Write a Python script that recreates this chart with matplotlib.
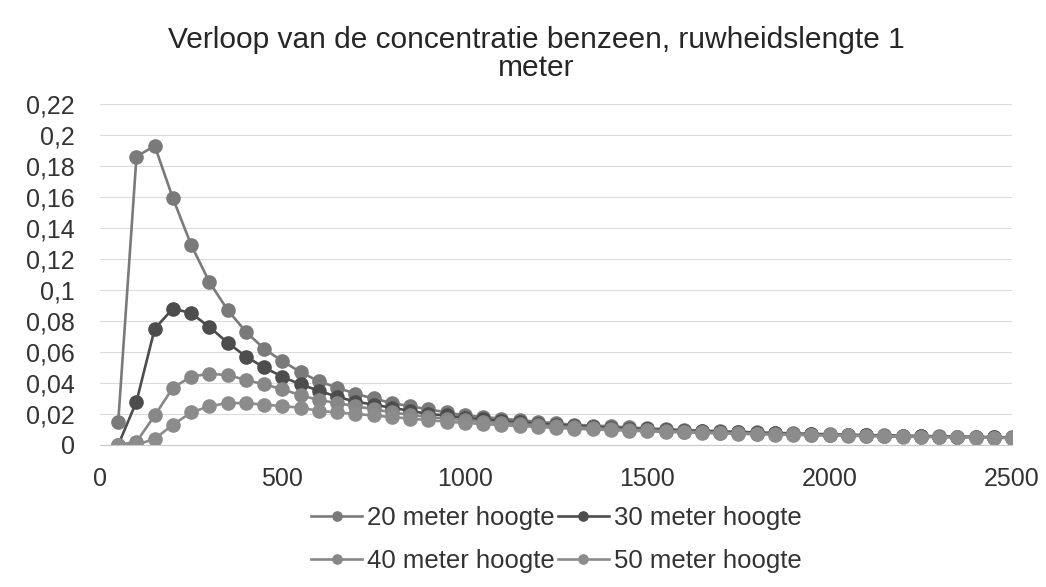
import numpy as np
import matplotlib
matplotlib.use('Agg')
import matplotlib.pyplot as plt
from matplotlib.ticker import FuncFormatter, MultipleLocator

plt.rcParams['font.family'] = ['Liberation Sans', 'DejaVu Sans']

afstand = np.arange(50, 2501, 50)

h20 = [0.015, 0.186, 0.193, 0.159, 0.129, 0.105, 0.087, 0.073, 0.062, 0.054,
       0.047, 0.041, 0.037, 0.033, 0.030, 0.027, 0.025, 0.023, 0.021, 0.019,
       0.018, 0.017, 0.016, 0.015, 0.014, 0.013, 0.0125, 0.012, 0.0113, 0.0107,
       0.0102, 0.0097, 0.0093, 0.0089, 0.0085, 0.0081, 0.0078, 0.0075, 0.0072, 0.0069,
       0.0067, 0.0064, 0.0062, 0.0060, 0.0058, 0.0056, 0.0054, 0.0052, 0.0051, 0.0049]
h30 = [0.0, 0.028, 0.075, 0.088, 0.085, 0.076, 0.066, 0.057, 0.050, 0.044,
       0.039, 0.035, 0.031, 0.028, 0.026, 0.024, 0.022, 0.020, 0.019, 0.0175,
       0.0165, 0.0155, 0.0145, 0.0137, 0.013, 0.0123, 0.0117, 0.0111, 0.0106, 0.0101,
       0.0096, 0.0092, 0.0088, 0.0084, 0.0081, 0.0078, 0.0075, 0.0072, 0.0069, 0.0067,
       0.0064, 0.0062, 0.0060, 0.0058, 0.0056, 0.0054, 0.0053, 0.0051, 0.0049, 0.0048]
h40 = [0.0, 0.002, 0.019, 0.037, 0.044, 0.046, 0.045, 0.042, 0.039, 0.036,
       0.032, 0.029, 0.027, 0.025, 0.023, 0.021, 0.0195, 0.018, 0.017, 0.016,
       0.015, 0.0142, 0.0134, 0.0127, 0.012, 0.0114, 0.0108, 0.0103, 0.0098, 0.0094,
       0.0090, 0.0086, 0.0082, 0.0079, 0.0076, 0.0073, 0.0070, 0.0068, 0.0065, 0.0063,
       0.0061, 0.0059, 0.0057, 0.0055, 0.0053, 0.0052, 0.0050, 0.0049, 0.0047, 0.0046]
h50 = [0.0, 0.0, 0.004, 0.013, 0.021, 0.025, 0.027, 0.027, 0.026, 0.025,
       0.024, 0.022, 0.021, 0.020, 0.019, 0.018, 0.017, 0.016, 0.015, 0.0142,
       0.0135, 0.0128, 0.0122, 0.0116, 0.011, 0.0105, 0.0100, 0.0096, 0.0092, 0.0088,
       0.0084, 0.0081, 0.0078, 0.0075, 0.0072, 0.0069, 0.0067, 0.0065, 0.0063, 0.0061,
       0.0059, 0.0057, 0.0055, 0.0053, 0.0052, 0.0050, 0.0049, 0.0047, 0.0046, 0.0045]

labels = ['20 meter hoogte', '30 meter hoogte', '40 meter hoogte', '50 meter hoogte']
colors = ['#7a7a7a', '#4d4d4d', '#878787', '#8c8c8c']

fig = plt.figure(figsize=(10.46, 5.87), dpi=100)
ax = fig.add_axes([0.0956, 0.242, 0.872, 0.581])

lines = []
for data, lab, col in zip([h20, h30, h40, h50], labels, colors):
    l, = ax.plot(afstand, data, color=col, linewidth=1.9, marker='o',
                 markersize=9.5, label=lab)
    lines.append(l)

ax.set_xlim(0, 2500)
ax.set_ylim(0, 0.22)
ax.xaxis.set_major_locator(MultipleLocator(500))
ax.yaxis.set_major_locator(MultipleLocator(0.02))
ax.yaxis.set_major_formatter(FuncFormatter(lambda v, p: ('%g' % round(v, 2)).replace('.', ',')))
ax.grid(axis='y', color='#dcdcdc', linewidth=0.8)
ax.set_axisbelow(True)
for s in ['top', 'right', 'left']:
    ax.spines[s].set_visible(False)
ax.spines['bottom'].set_color('#c8c8c8')
ax.tick_params(length=0, labelsize=18, colors='#333333')
ax.tick_params(axis='y', pad=18)
ax.tick_params(axis='x', pad=16)

fig.text(0.513, 0.908, 'Verloop van de concentratie benzeen, ruwheidslengte 1\nmeter',
         ha='center', va='center', fontsize=21.5, color='#262626', linespacing=1.0)

order = [0, 2, 1, 3]
fig.legend([lines[i] for i in order], [labels[i] for i in order], ncol=2,
           loc='center', bbox_to_anchor=(0.532, 0.081), frameon=False, fontsize=18.5,
           labelspacing=0.75, columnspacing=0.1, handlelength=2.0, handletextpad=0.2,
           markerscale=0.7, labelcolor='#333333')

fig.savefig('out.png', dpi=100)
